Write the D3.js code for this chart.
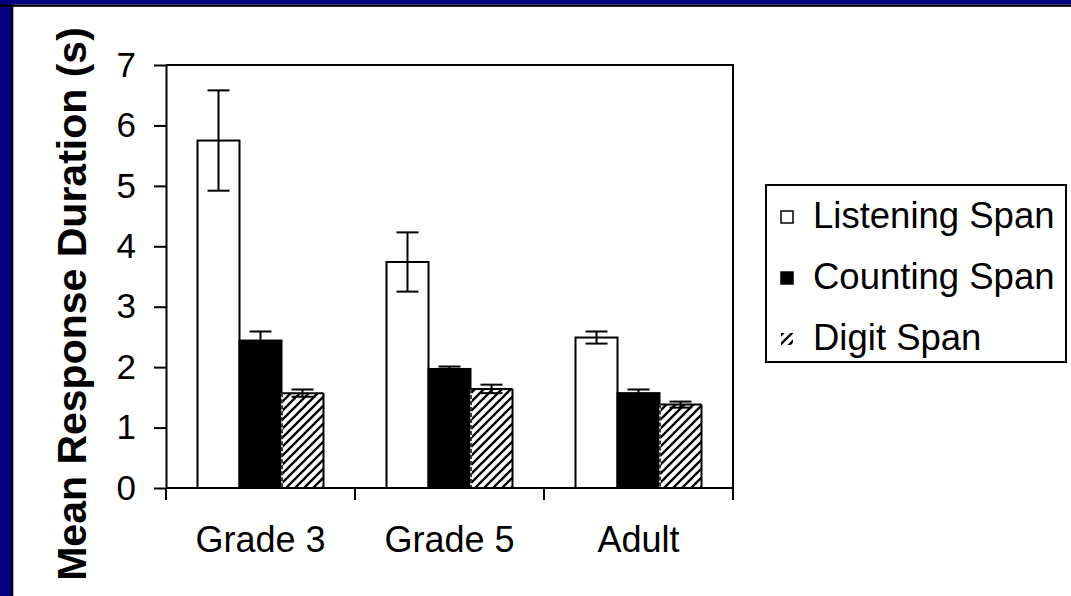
<!DOCTYPE html>
<html>
<head>
<meta charset="utf-8">
<script src="https://cdn.jsdelivr.net/npm/d3@7"></script>
<style>
  html, body { margin: 0; padding: 0; background: #fff; }
  svg { display: block; }
  text { font-family: "Liberation Sans", Arial, sans-serif; fill: #000; }
</style>
</head>
<body>
<svg id="chart" width="1071" height="596"></svg>
<script>
// Response duration by age group for three span tasks (seconds)
const categories = ["Grade 3", "Grade 5", "Adult"];
const seriesNames = ["Listening Span", "Counting Span", "Digit Span"];
const listeningMeans = [5.75, 3.74, 2.49];
const listeningErrors = [0.83, 0.49, 0.10];
const countingMeans = [2.44, 1.97, 1.57];
const countingErrors = [0.15, 0.04, 0.06];
const digitMeans = [1.57, 1.64, 1.38];
const digitErrors = [0.06, 0.07, 0.05];
const yTickValues = [0, 1, 2, 3, 4, 5, 6, 7];

const series = [
  { name: seriesNames[0], means: listeningMeans, errors: listeningErrors, kind: "open" },
  { name: seriesNames[1], means: countingMeans, errors: countingErrors, kind: "solid" },
  { name: seriesNames[2], means: digitMeans, errors: digitErrors, kind: "hatch" }
];

const svg = d3.select("#chart");
const W = 1071, H = 596;

// slide frame: navy band with a thin black rule on the top and left
svg.append("rect").attr("x", 0).attr("y", 0).attr("width", W).attr("height", H).attr("fill", "#fff");
svg.append("rect").attr("x", 0).attr("y", 0).attr("width", W).attr("height", 4.5).attr("fill", "#000080");
svg.append("rect").attr("x", 0).attr("y", 0).attr("width", 11).attr("height", H).attr("fill", "#000080");
svg.append("rect").attr("x", 0).attr("y", 4.5).attr("width", W).attr("height", 2.3).attr("fill", "#000");
svg.append("rect").attr("x", 11).attr("y", 4.5).attr("width", 2.3).attr("height", H).attr("fill", "#000");

const defs = svg.append("defs");
const pat = defs.append("pattern")
  .attr("id", "hatch")
  .attr("patternUnits", "userSpaceOnUse")
  .attr("width", 9).attr("height", 9);
pat.append("rect").attr("width", 9).attr("height", 9).attr("fill", "#fff");
pat.append("path")
  .attr("d", "M-2,2 l4,-4 M0,9 l9,-9 M7,11 l4,-4")
  .attr("stroke", "#000").attr("stroke-width", 2.3);

const plot = { left: 166, right: 733, top: 65, bottom: 488 };

const x = d3.scaleBand()
  .domain(categories)
  .range([plot.left, plot.right])
  .paddingInner(1 / 3)
  .paddingOuter(1 / 6);

const xs = d3.scaleBand()
  .domain(seriesNames)
  .range([0, x.bandwidth()]);

const y = d3.scaleLinear().domain([0, 7]).range([plot.bottom, plot.top]);

const fillFor = k => k === "open" ? "#fff" : k === "solid" ? "#000" : "url(#hatch)";

// bars
series.forEach(s => {
  const g = svg.append("g");
  categories.forEach((c, i) => {
    const x0 = x(c) + xs(s.name);
    const w = xs.bandwidth();
    const yTop = y(s.means[i]);
    g.append("rect")
      .attr("x", x0).attr("y", yTop)
      .attr("width", w).attr("height", y(0) - yTop)
      .attr("fill", fillFor(s.kind))
      .attr("stroke", s.kind === "hatch" ? "none" : "#000")
      .attr("stroke-width", 2);
    if (s.kind === "hatch") {
      const edges = [
        [x0, yTop, x0 + w, yTop],
        [x0 + w, yTop, x0 + w, y(0)]
      ];
      edges.forEach(e => g.append("line")
        .attr("x1", e[0]).attr("y1", e[1]).attr("x2", e[2]).attr("y2", e[3])
        .attr("stroke", "#000").attr("stroke-width", 2));
      g.append("line")
        .attr("x1", x0 + 0.5).attr("y1", yTop).attr("x2", x0 + 0.5).attr("y2", y(0))
        .attr("stroke", "#fff").attr("stroke-width", 1.5);
      g.append("line")
        .attr("x1", x0 + 0.5).attr("y1", yTop).attr("x2", x0 + 0.5).attr("y2", y(0))
        .attr("stroke", "#000").attr("stroke-width", 1.5)
        .attr("stroke-dasharray", "4,2");
    }
  });
});

// error bars
const capHalf = 11;
series.forEach(s => {
  categories.forEach((c, i) => {
    const cx = x(c) + xs(s.name) + xs.bandwidth() / 2;
    const hi = y(s.means[i] + s.errors[i]);
    const lo = y(s.means[i] - s.errors[i]);
    const g = svg.append("g").attr("stroke", "#000").attr("stroke-width", 2);
    g.append("line").attr("x1", cx).attr("x2", cx).attr("y1", hi).attr("y2", lo);
    g.append("line").attr("x1", cx - capHalf).attr("x2", cx + capHalf).attr("y1", hi).attr("y2", hi);
    g.append("line").attr("x1", cx - capHalf).attr("x2", cx + capHalf).attr("y1", lo).attr("y2", lo);
  });
});

// plot frame (top and right)
svg.append("path")
  .attr("d", `M${plot.left},${plot.top}H${plot.right}V${plot.bottom}`)
  .attr("fill", "none").attr("stroke", "#000").attr("stroke-width", 2);

// y axis
const yAxis = d3.axisLeft(y)
  .tickValues(yTickValues)
  .tickFormat(d3.format("d"))
  .tickSize(12).tickSizeOuter(0).tickPadding(18);
const yg = svg.append("g").attr("transform", `translate(${plot.left},0)`).call(yAxis);
yg.attr("font-size", 35).attr("font-family", "Liberation Sans, Arial, sans-serif");
yg.select(".domain").attr("stroke", "#000").attr("stroke-width", 2);
yg.selectAll(".tick line").attr("stroke", "#000").attr("stroke-width", 2);
yg.selectAll(".tick text").attr("fill", "#000");

// x axis: baseline with ticks at band boundaries
const boundaries = categories.map(c => x(c) - x.step() * x.paddingInner() / 2)
  .concat([plot.right]);
boundaries[0] = plot.left;
svg.append("line")
  .attr("x1", plot.left).attr("x2", plot.right)
  .attr("y1", y(0)).attr("y2", y(0))
  .attr("stroke", "#000").attr("stroke-width", 2);
svg.selectAll(".xtick").data(boundaries).enter().append("line")
  .attr("class", "xtick")
  .attr("x1", d => d).attr("x2", d => d)
  .attr("y1", y(0)).attr("y2", y(0) + 12)
  .attr("stroke", "#000").attr("stroke-width", 2);
svg.selectAll(".xlabel").data(categories).enter().append("text")
  .attr("class", "xlabel")
  .attr("x", d => x(d) + x.bandwidth() / 2)
  .attr("y", 552)
  .attr("text-anchor", "middle")
  .attr("font-size", 36)
  .text(d => d);

// y title
svg.append("text")
  .attr("transform", `translate(86,304) rotate(-90)`)
  .attr("text-anchor", "middle")
  .attr("font-size", 41)
  .attr("font-weight", "bold")
  .text("Mean Response Duration (s)");

// legend
const legend = svg.append("g");
legend.append("rect")
  .attr("x", 766).attr("y", 185).attr("width", 300).attr("height", 177)
  .attr("fill", "#fff").attr("stroke", "#000").attr("stroke-width", 2);
const rowY = d3.scalePoint().domain(seriesNames).range([228, 350]);
series.forEach(s => {
  const by = rowY(s.name);
  legend.append("rect")
    .attr("x", 781).attr("y", by - 17).attr("width", 12).attr("height", 12)
    .attr("fill", fillFor(s.kind))
    .attr("stroke", s.kind === "hatch" ? "none" : "#000")
    .attr("stroke-width", 1.5);
  legend.append("text")
    .attr("x", 813).attr("y", by)
    .attr("font-size", 36.5)
    .text(s.name);
});
</script>
</body>
</html>
